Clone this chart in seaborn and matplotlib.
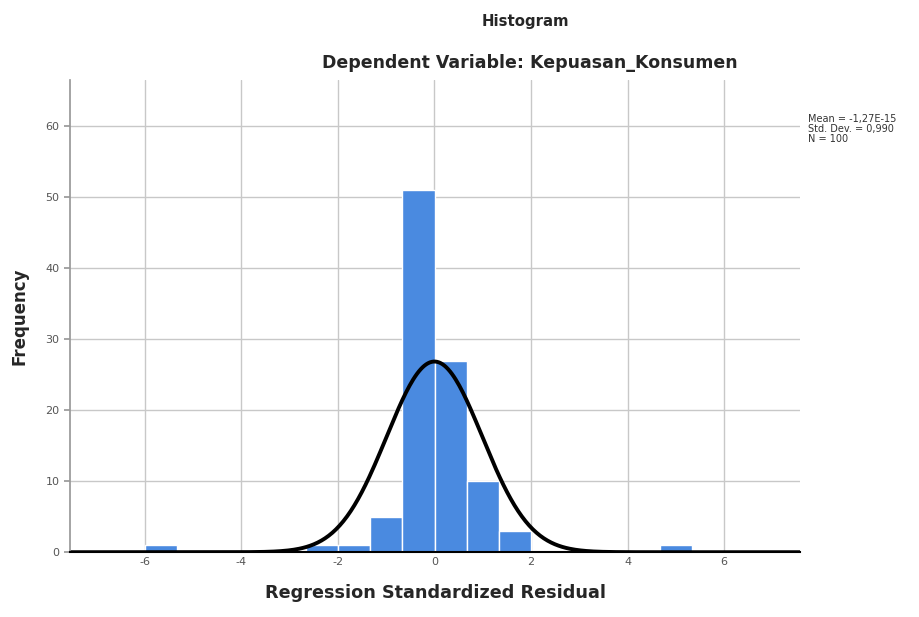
import numpy as np
import pandas as pd
import matplotlib
matplotlib.use("Agg")
import matplotlib.pyplot as plt
import seaborn as sns

# histogram bins (bin width 2/3)
bin_mids = [-5.667, -2.333, -1.667, -1.0, -0.333, 0.333, 1.0, 1.667, 5.0]
counts = [1, 1, 1, 5, 51, 27, 10, 3, 1]
x_ticks = [-6, -4, -2, 0, 2, 4, 6]
y_ticks = [0, 10, 20, 30, 40, 50, 60]
mean_val = -1.27e-15
std_val = 0.990
n_val = 100
bin_w = 2 / 3

sns.set_theme(style="whitegrid")
plt.rcParams['font.family'] = ['DejaVu Sans']
plt.rcParams['axes.unicode_minus'] = False

fig = plt.figure(figsize=(9.2, 6.17), dpi=100)
ax = fig.add_axes([0.076, 0.105, 0.794, 0.765])

df = pd.DataFrame({"resid": bin_mids, "count": counts})
sns.histplot(data=df, x="resid", weights="count", binwidth=bin_w,
             binrange=(-6, 5.333 + 0.01), color="#4a8ae0", alpha=1,
             edgecolor="white", linewidth=1, ax=ax)

xs = np.linspace(-7.6, 7.6, 400)
ys = n_val * bin_w * np.exp(-0.5 * ((xs - mean_val) / std_val) ** 2) / (std_val * np.sqrt(2 * np.pi))
sns.lineplot(x=xs, y=ys, color="black", linewidth=2.8, ax=ax)

ax.set_xlim(-7.55, 7.58)
ax.set_ylim(0, 66.5)
ax.set_xticks(x_ticks)
ax.set_yticks(y_ticks)
ax.tick_params(labelsize=8, labelcolor="#555555", length=0)
ax.tick_params(axis="y", length=4, color="#999999", left=True)
ax.grid(True, color="#c8c8c8", linewidth=1)
ax.set_axisbelow(True)
for s in ["top", "right"]:
    ax.spines[s].set_visible(False)
ax.spines["left"].set_color("#999999")
ax.spines["bottom"].set_color("black")
ax.spines["bottom"].set_linewidth(1.5)

ax.set_xlabel("Regression Standardized Residual", fontsize=12.7, fontweight="bold", labelpad=12)
ax.set_ylabel("Frequency", fontsize=12, fontweight="bold", labelpad=12)

fig.text(0.571, 0.965, "Histogram", ha="center", va="center", fontsize=10.7, fontweight="bold")
fig.text(0.576, 0.898, "Dependent Variable: Kepuasan_Konsumen", ha="center", va="center",
         fontsize=12.5, fontweight="bold")
fig.text(0.878, 0.815, "Mean = -1,27E-15\nStd. Dev. = 0,990\nN = 100", ha="left", va="top",
         fontsize=7, color="#333333", linespacing=1.0)

fig.savefig("out.png", dpi=100)
